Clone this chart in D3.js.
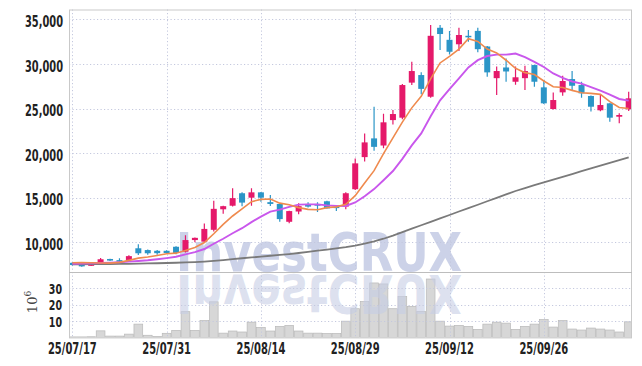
<!DOCTYPE html>
<html><head><meta charset="utf-8">
<script src="https://cdn.jsdelivr.net/npm/d3@7"></script>
<style>body{margin:0;background:#fff}svg{display:block}</style>
</head><body>
<svg id="c" width="642" height="366"></svg>
<script>
// ---- data ----
const dates = ["2025-07-17","2025-07-18","2025-07-21","2025-07-22","2025-07-23","2025-07-24","2025-07-25","2025-07-28","2025-07-29","2025-07-30","2025-07-31",
"2025-08-01","2025-08-04","2025-08-05","2025-08-06","2025-08-07","2025-08-08","2025-08-11","2025-08-12","2025-08-13","2025-08-14",
"2025-08-18","2025-08-19","2025-08-20","2025-08-21","2025-08-22","2025-08-25","2025-08-26","2025-08-27","2025-08-28","2025-08-29",
"2025-09-01","2025-09-02","2025-09-03","2025-09-04","2025-09-05","2025-09-08","2025-09-09","2025-09-10","2025-09-11","2025-09-12",
"2025-09-15","2025-09-16","2025-09-17","2025-09-18","2025-09-19","2025-09-22","2025-09-23","2025-09-24","2025-09-25","2025-09-26",
"2025-09-29","2025-09-30","2025-10-01","2025-10-02","2025-10-10","2025-10-13","2025-10-14","2025-10-15","2025-10-16"];
const open  = [7700,7550,7400,7570,8130,8000,8020,9330,9130,9050,9050,9500,8950,10250,10070,11400,13700,14100,15500,15000,15600,14500,14300,12300,13450,14300,14300,14600,14000,14000,15950,19550,21650,20850,23700,23970,27900,28750,26320,34050,32700,32200,33150,33700,31950,28400,29600,28000,28400,29870,27370,24940,26810,28300,27630,26400,24800,25580,24080,24910];
const high  = [7750,7600,7550,8250,8150,8200,8550,9780,9200,9150,9100,9550,10800,10550,12100,14650,14100,16050,15600,16050,15650,15300,14350,13550,14370,14500,14480,14650,14180,15600,19400,22200,25200,24400,24830,27750,30250,29050,34350,34350,33700,34050,33800,34050,32000,29700,30600,29700,29800,29900,28200,26800,28680,29200,28000,26450,26600,25600,24460,26880];
const low   = [7400,7250,7350,7500,7900,7800,7950,8580,8600,8600,8700,8650,8850,10000,10000,11200,13200,14000,14050,14100,14550,14070,12300,12130,13140,13900,13400,13800,13500,13700,15850,19050,20250,20550,23200,23800,27630,26600,26200,31550,31050,31450,32490,31300,28550,26500,28000,27650,27070,27450,25500,24900,26430,26950,26200,24650,24700,23520,23340,24720];
const close = [7450,7300,7530,8100,7950,7850,8450,8770,8770,8780,8800,8800,10250,10500,11500,13750,14050,14950,14450,15600,15000,14300,12600,13500,14050,14000,14100,13800,13920,15500,18850,21200,20700,23450,24380,27630,29200,27200,33150,33350,31360,33240,33000,31650,29050,29200,29150,28500,29200,28000,25580,25950,28080,27550,26700,25200,25390,23970,24270,26140];
const volume = [0.3,0.3,0.4,4.0,0.8,0.8,2.0,8.1,1.3,0.6,2.5,4.3,15.7,4.3,10.3,21.7,2.6,3.9,3.3,9.3,6.1,3.9,6.7,7.3,3.9,2.6,2.6,2.4,2.4,9.9,17.5,21.9,33.2,32.6,17.5,24.9,18.9,15.9,35.6,9.9,6.9,7.3,6.7,4.9,8.1,9.3,8.7,4.9,6.7,8.1,10.9,6.3,10.3,5.1,4.5,5.7,5.1,4.5,3.3,9.5];
const ma5 = [7700,7720,7700,7680,7666,7746,7976,8224,8358,8524,8714,8784,9080,9426,9970,10960,12010,12950,13740,14560,14810,14860,14390,14200,13890,13690,13650,13890,13974,14264,15234,16654,18034,19940,21716,23472,25072,26372,28312,30106,30852,31660,32820,32520,31660,31228,30410,29510,29020,28810,28086,27446,27362,27032,26772,26696,26584,25762,25106,24994];
const ma10 = [7600,7620,7640,7680,7720,7770,7830,7900,7980,8095,8230,8380,8652,8892,9247,9837,10397,11015,11583,12265,12885,13435,13670,13970,14225,14250,14255,14140,14087,14077,14462,15152,15962,16957,17990,19353,20863,22203,24126,25911,27162,28366,29596,30416,30883,31040,31035,31165,30770,30235,29657,28928,28436,28026,27791,27391,27015,26562,26069,25883];
const maLong = [7530,7540,7550,7560,7570,7580,7590,7610,7630,7650,7680,7710,7740,7780,7840,7920,8010,8110,8210,8300,8400,8490,8580,8680,8800,8930,9060,9190,9320,9450,9620,9850,10100,10400,10750,11150,11530,11910,12290,12680,13060,13450,13830,14210,14600,14980,15370,15750,16080,16400,16710,17020,17340,17650,17970,18280,18590,18900,19220,19530];
const priceTicks = [10000,15000,20000,25000,30000,35000];
const volTicks = [10,20,30];
const dateTicks = ["2025-07-17","2025-07-31","2025-08-14","2025-08-29","2025-09-12","2025-09-26"];
const watermark = "InvestCRUX";

// ---- layout ----
const L = 69, R = 632, T = 9.5, MID = 272.3, B = 337.4;
const svg = d3.select("#c");
const x = d3.scaleBand().domain(dates).range([67.6, 633.4]).paddingInner(0).paddingOuter(0);
const cx = d => x(d) + x.bandwidth() / 2;
const y = d3.scaleLinear().domain([10000, 35000]).range([242.3, 19.3]);
const yv = d3.scaleLinear().domain([0, 40]).range([B, 271.8]);

const defs = svg.append("defs");
defs.append("clipPath").attr("id", "cp").append("rect").attr("x", L).attr("y", T).attr("width", R - L).attr("height", MID - T);
defs.append("clipPath").attr("id", "cv").append("rect").attr("x", L).attr("y", MID).attr("width", R - L).attr("height", B - MID);
const wmText = defs.append("text").attr("id", "wm")
  .attr("x", 176).attr("y", 271).text(watermark)
  .attr("font-family", "DejaVu Sans").attr("font-weight", "bold").attr("font-size", 53)
  .attr("textLength", 286).attr("lengthAdjust", "spacingAndGlyphs");

// volume bars
const gv = svg.append("g").attr("clip-path", "url(#cv)");
gv.selectAll("rect").data(dates).join("rect")
  .attr("x", d => x(d) + 0.35).attr("width", x.bandwidth() - 0.7)
  .attr("y", (d, i) => yv(volume[i])).attr("height", (d, i) => B - yv(volume[i]))
  .attr("fill", "#d7d7d7").attr("stroke", "#b9b9b9").attr("stroke-width", 0.7);

// watermark and its reflection
svg.append("g").attr("clip-path", "url(#cp)").append("use").attr("href", "#wm")
  .attr("fill", "#c6cde5").attr("fill-opacity", 0.9);
svg.append("g").attr("clip-path", "url(#cv)").append("g")
  .attr("transform", `translate(0,${2 * MID + 1.5}) scale(1,-1)`)
  .append("use").attr("href", "#wm").attr("fill", "#c6cde5").attr("fill-opacity", 0.6);

// grid
const grid = svg.append("g").attr("stroke", "#c4c8de").attr("stroke-width", 1).attr("stroke-dasharray", "1.2,2.3");
grid.selectAll(".hp").data(priceTicks).join("line").attr("class", "hp").attr("x1", L).attr("x2", R)
  .attr("y1", d => Math.round(y(d)) + 0.5).attr("y2", d => Math.round(y(d)) + 0.5);
grid.selectAll(".hv").data(volTicks).join("line").attr("class", "hv").attr("x1", L).attr("x2", R)
  .attr("y1", d => Math.round(yv(d)) + 0.5).attr("y2", d => Math.round(yv(d)) + 0.5);
grid.selectAll(".vx").data(dateTicks).join("line").attr("class", "vx")
  .attr("x1", d => Math.round(cx(d)) + 0.5).attr("x2", d => Math.round(cx(d)) + 0.5).attr("y1", T).attr("y2", B);

// price panel
const gp = svg.append("g").attr("clip-path", "url(#cp)");
const line = arr => d3.line().x((d, i) => cx(dates[i])).y(d => y(d))(arr);

const up = "#e5196a", dn = "#2b95c7";
const gc = gp.append("g");
dates.forEach((d, i) => {
  const col = close[i] >= open[i] ? up : dn;
  gc.append("line").attr("x1", cx(d)).attr("x2", cx(d)).attr("y1", y(high[i])).attr("y2", y(low[i]))
    .attr("stroke", col).attr("stroke-width", 1.2);
  const top = y(Math.max(open[i], close[i])), bot = y(Math.min(open[i], close[i]));
  gc.append("rect").attr("x", cx(d) - 3).attr("width", 6).attr("y", top).attr("height", Math.max(1.5, bot - top))
    .attr("fill", col);
});

gp.append("path").attr("d", line(maLong)).attr("fill", "none").attr("stroke", "#7a7a7a").attr("stroke-width", 1.8);
gp.append("path").attr("d", line(ma10)).attr("fill", "none").attr("stroke", "#c957ec").attr("stroke-width", 1.9);
gp.append("path").attr("d", line(ma5)).attr("fill", "none").attr("stroke", "#ef8a4e").attr("stroke-width", 1.6);

// frame
const fr = svg.append("g").attr("stroke", "#c9c9c9").attr("stroke-width", 1).attr("fill", "none");
fr.append("rect").attr("x", L + 0.5).attr("y", T + 0.5).attr("width", R - L - 1).attr("height", B - T);
fr.append("line").attr("x1", L).attr("x2", R).attr("y1", MID + 0.2).attr("y2", MID + 0.2).attr("stroke", "#bdbdbd");

// axes
const font = "'DejaVu Sans Condensed', 'DejaVu Sans', sans-serif";
function narrow(sel, dw, pw) {
  sel.each(function () {
    const s = this.textContent;
    const nd = s.replace(/[^0-9]/g, "").length, np = s.length - nd;
    d3.select(this).attr("textLength", nd * dw + np * pw).attr("lengthAdjust", "spacingAndGlyphs");
  });
}
const ax = svg.append("g").attr("transform", `translate(${L},0)`)
  .call(d3.axisLeft(y).tickValues(priceTicks).tickSize(0).tickPadding(6).tickFormat(d3.format(",")));
ax.select(".domain").remove();
ax.selectAll("text").attr("font-family", font).attr("font-size", 15.5).attr("font-weight", "bold")
  .attr("fill", "#222").attr("dy", "0.47em").call(narrow, 7, 3);

const av = svg.append("g").attr("transform", `translate(${L},0)`)
  .call(d3.axisLeft(yv).tickValues(volTicks).tickSize(0).tickPadding(7));
av.select(".domain").remove();
av.selectAll("text").attr("font-family", font).attr("font-size", 13.5).attr("font-weight", "bold")
  .attr("fill", "#222").attr("dy", "0.38em").call(narrow, 6.6, 3);

const fmtIn = d3.timeParse("%Y-%m-%d"), fmtOut = d3.timeFormat("%y/%m/%d");
const axx = svg.append("g").attr("transform", `translate(0,${B})`)
  .call(d3.axisBottom(x).tickValues(dateTicks).tickSize(0).tickPadding(6).tickFormat(d => fmtOut(fmtIn(d))));
axx.select(".domain").remove();
axx.selectAll("text").attr("font-family", font).attr("font-size", 15.5).attr("font-weight", "bold")
  .attr("fill", "#222").call(narrow, 6.6, 4.6);

// unit label
const ul = svg.append("text").attr("transform", "translate(37,302) rotate(-90)")
  .attr("text-anchor", "middle").attr("font-family", "DejaVu Serif").attr("font-size", 13).attr("fill", "#444");
ul.append("tspan").text("10");
ul.append("tspan").text("6").attr("font-size", 9).attr("dy", -6);
</script>
</body></html>
